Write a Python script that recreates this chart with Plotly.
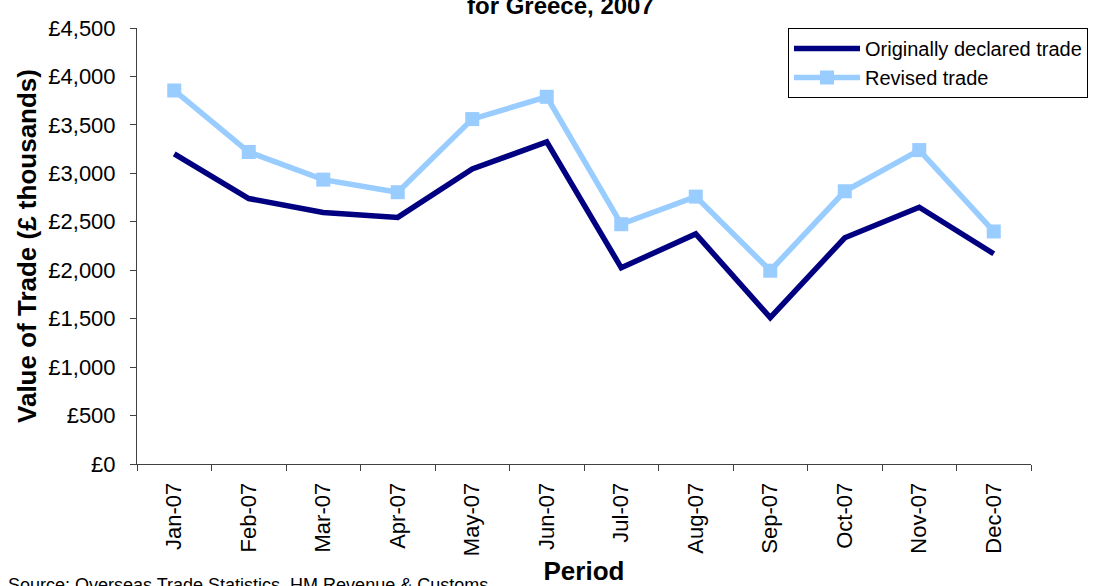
import plotly.graph_objects as go

# monthly values, £ thousands
months = ['Jan-07', 'Feb-07', 'Mar-07', 'Apr-07', 'May-07', 'Jun-07',
          'Jul-07', 'Aug-07', 'Sep-07', 'Oct-07', 'Nov-07', 'Dec-07']
original = [3200, 2740, 2595, 2545, 3045, 3325, 2025, 2375, 1510, 2335, 2650, 2170]
revised = [3855, 3220, 2935, 2805, 3560, 3790, 2475, 2760, 1995, 2815, 3240, 2400]

FONT = 'Liberation Sans, Arial, sans-serif'
AXIS_COL = '#404040'

fig = go.Figure()
fig.add_trace(go.Scatter(x=months, y=original, name='Originally declared trade',
                         mode='lines', line=dict(color='#000080', width=5.5)))
fig.add_trace(go.Scatter(x=months, y=revised, name='Revised trade',
                         mode='lines+markers', line=dict(color='#99CCFF', width=5.5),
                         marker=dict(symbol='square', size=14, color='#99CCFF')))

fig.update_layout(
    width=1104, height=586,
    margin=dict(l=137, r=73, t=28, b=122),
    paper_bgcolor='white', plot_bgcolor='white',
    font=dict(family=FONT, color='black', size=21),
    showlegend=True,
    legend=dict(x=(788 - 137) / 894, y=1, xanchor='left', yanchor='top',
                bordercolor='black', borderwidth=1, bgcolor='white',
                font=dict(size=20), itemwidth=66, tracegroupgap=0),
)

fig.update_xaxes(
    type='category', range=[-0.5, 11.5], automargin=False,
    showline=True, linecolor=AXIS_COL, linewidth=1,
    ticks='outside', tickson='boundaries', ticklen=6, tickcolor=AXIS_COL,
    tickangle=-90, tickfont=dict(size=22), ticklabelstandoff=9,
    showgrid=False, zeroline=False,
    title=dict(text='<b>Period</b>', font=dict(size=26), standoff=15),
)
fig.update_yaxes(
    range=[0, 4500], dtick=500, tickprefix='£', tickformat=',', automargin=False,
    showline=True, linecolor=AXIS_COL, linewidth=1,
    ticks='outside', ticklen=6, tickcolor=AXIS_COL,
    tickfont=dict(size=22), ticklabelstandoff=10,
    showgrid=False, zeroline=False,
    title=dict(text='<b>Value of Trade (£ thousands)</b>', font=dict(size=26), standoff=4),
)

# title: only its last line is visible in the frame
fig.add_annotation(text='<b>for Greece, 2007</b>', xref='paper', yref='paper',
                   x=(560 - 137) / 894, y=1.015, xanchor='center', yanchor='bottom',
                   showarrow=False, font=dict(size=24))
fig.add_annotation(text='Source: Overseas Trade Statistics, HM Revenue & Customs',
                   xref='paper', yref='paper', x=(6 - 137) / 894, y=-0.25,
                   xanchor='left', yanchor='top', showarrow=False,
                   font=dict(size=18))

# drop the page's default body margin so the figure sits at the window corner
fig.write_html('out.html', config={'displayModeBar': False},
               post_script="document.body.style.margin='0';")
